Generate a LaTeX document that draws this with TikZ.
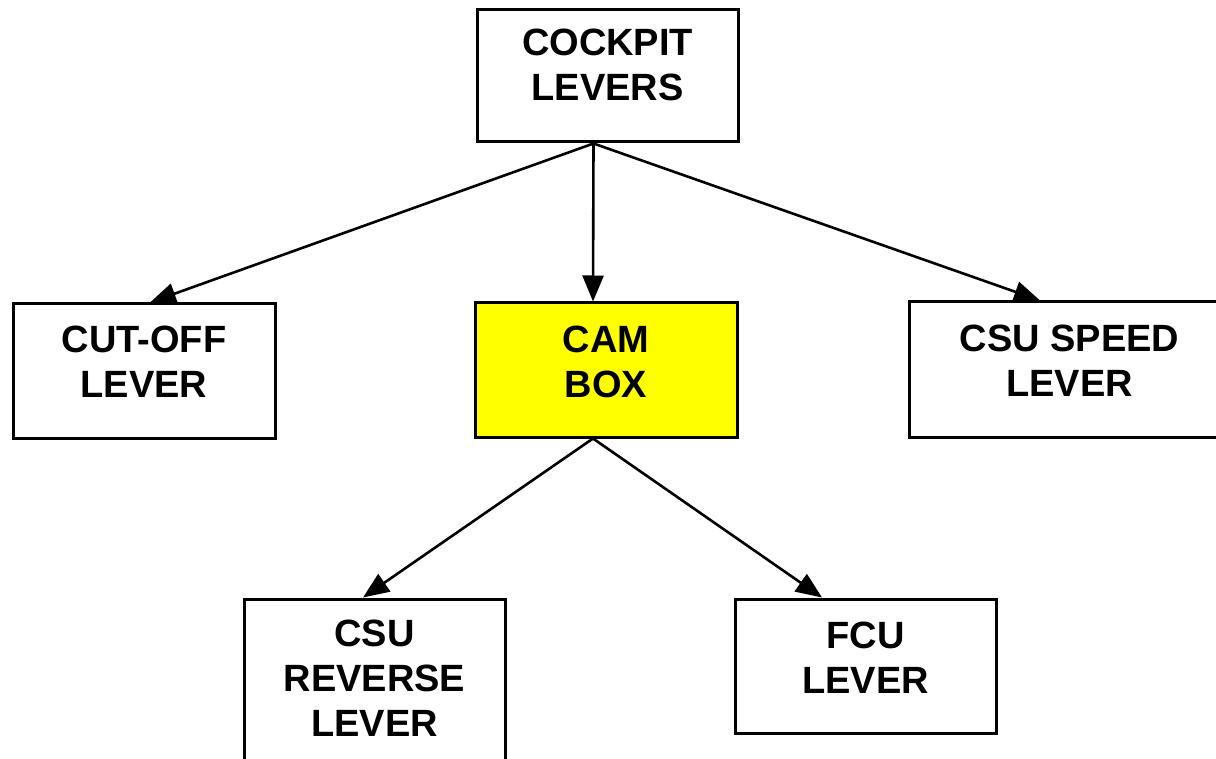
\documentclass[tikz,border=0pt]{standalone}
\usepackage{fontspec}
\setmainfont{Liberation Sans}
\usetikzlibrary{arrows.meta}
\definecolor{camyellow}{RGB}{255,255,0}
\tikzset{
  boxnode/.style={draw=black, line width=3pt, rectangle, inner sep=0pt, minimum width=#1},
  boxnode/.default=261pt,
  txt/.style={align=center, inner sep=0pt, font=\fontsize{38}{45}\selectfont\bfseries},
  arr/.style={line width=2.6pt, -{Triangle[length=26pt,width=21pt]}}
}
\begin{document}
\begin{tikzpicture}[x=1pt,y=-1pt]
\useasboundingbox (0,0) rectangle (1216,759);
% boxes
\node[boxnode, minimum height=132pt] (cockpit) at (607.5,76) {};
\node[boxnode=262pt, minimum height=134pt] (cutoff) at (144,371) {};
\node[boxnode=262pt, minimum height=134pt, fill=camyellow] (cam) at (606,370) {};
\node[boxnode=321pt, minimum height=135pt] (speed) at (1069.5,369.5) {};
\node[boxnode, minimum height=181pt] (reverse) at (374.5,689.5) {};
\node[boxnode, minimum height=134pt] (fcu) at (865.5,666) {};
% texts
\node[txt] (cockpit-t) at ([yshift=11pt]cockpit.center) {COCKPIT\\LEVERS};
\node[txt] (cutoff-t) at ([yshift=9pt]cutoff.center) {CUT-OFF\\LEVER};
\node[txt] (cam-t) at ([yshift=8pt]cam.center) {CAM\\BOX};
\node[txt] (speed-t) at ([yshift=9pt]speed.center) {CSU SPEED\\LEVER};
\node[txt] (reverse-t) at ([yshift=11pt]reverse.center) {CSU\\REVERSE\\LEVER};
\node[txt] (fcu-t) at ([yshift=8pt]fcu.center) {FCU\\LEVER};
% connectors
\coordinate (cpsrc) at ([xshift=-14pt]cockpit.south);
\coordinate (camsrc) at ([xshift=-13pt]cam.south);
\draw[arr] (cpsrc) -- ([xshift=6pt]cutoff.north);
\draw[arr] (cpsrc) -- ([xshift=-13pt]cam.north);
\draw[arr] (cpsrc) -- ([xshift=-29.5pt]speed.north);
\draw[arr] (camsrc) -- ([xshift=-11.5pt]reverse.north);
\draw[arr] (camsrc) -- ([xshift=-43.5pt]fcu.north);
\end{tikzpicture}
\end{document}
